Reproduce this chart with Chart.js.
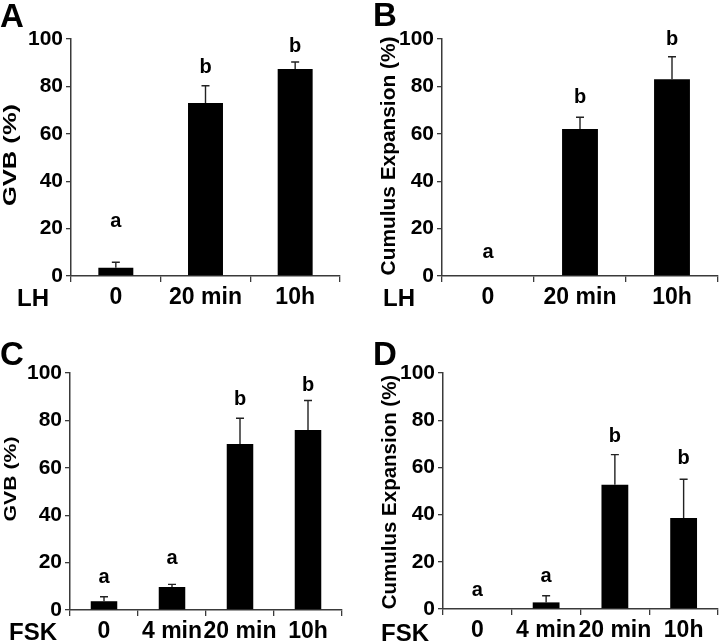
<!DOCTYPE html>
<html>
<head>
<meta charset="utf-8">
<script src="https://cdn.jsdelivr.net/npm/chart.js@4.4.1/dist/chart.umd.min.js"></script>
<style>
  body { margin: 0; background: #fff; }
  #wrap { position: relative; width: 720px; height: 642px; overflow: hidden; font-family: "Liberation Sans", Arial, sans-serif; font-weight: bold; color: #000; }
  .box { position: absolute; width: 360px; height: 321px; }
  .lbl { position: absolute; white-space: nowrap; }
  .panel { font-size: 33px; line-height: 33px; }
  .treat { font-size: 24px; line-height: 24px; }
</style>
</head>
<body>
<div id="wrap">
  <div class="box" style="left:0;top:0"><canvas id="chartA" width="360" height="321"></canvas></div>
  <div class="box" style="left:360px;top:0"><canvas id="chartB" width="360" height="321"></canvas></div>
  <div class="box" style="left:0;top:321px"><canvas id="chartC" width="360" height="321"></canvas></div>
  <div class="box" style="left:360px;top:321px"><canvas id="chartD" width="360" height="321"></canvas></div>

  <div class="lbl panel" style="left:0;top:-1px">A</div>
  <div class="lbl panel" style="left:373px;top:-2px">B</div>
  <div class="lbl panel" style="left:0;top:337px">C</div>
  <div class="lbl panel" style="left:373px;top:337px">D</div>

  <div class="lbl treat" style="left:17px;top:286px">LH</div>
  <div class="lbl treat" style="left:383px;top:286px">LH</div>
  <div class="lbl treat" style="left:9px;top:620px">FSK</div>
  <div class="lbl treat" style="left:381px;top:621px">FSK</div>
</div>
<script>
// categories
const lhLabels = ['0', '20 min', '10h'];
const fskLabels = ['0', '4 min', '20 min', '10h'];

// means and SEM (upper error only)
const gvbLH = [3.5, 73, 87.3];
const gvbLHErr = [2.3, 7.3, 3];
const cumLH = [0, 62, 83];
const cumLHErr = [0, 5, 9.5];
const gvbFSK = [3.7, 9.7, 70, 76];
const gvbFSKErr = [1.9, 1.1, 10.9, 12.4];
const cumFSK = [0, 2.8, 52.7, 38.6];
const cumFSKErr = [0, 2.8, 12.7, 16.4];

// significance letters and where they sit (value units, baseline)
const lettersLH = ['a', 'b', 'b'];
const letterPosGvbLH = [20.7, 85.6, 94.5];
const letterPosCumLH = [7.6, 73, 97.5];
const lettersFSK = ['a', 'a', 'b', 'b'];
const letterPosGvbFSK = [11.4, 19.2, 86.7, 92.3];
const letterPosCumFSK = [5.6, 11.3, 70.6, 61.4];

const yTicks = [0, 20, 40, 60, 80, 100];

const FONT = '"Liberation Sans", Arial, sans-serif';
const AXIS = '#3a3a3a';

// error bars, letters and the (stretched) y title
const errBars = {
  id: 'errbars',
  afterDatasetsDraw(chart, args, opts) {
    const ctx = chart.ctx;
    const y = chart.scales.y;
    const meta = chart.getDatasetMeta(0);
    const vals = chart.data.datasets[0].data;
    ctx.save();
    meta.data.forEach((bar, i) => {
      const x = bar.x;
      if (opts.err[i] > 0) {
        const y0 = y.getPixelForValue(vals[i]);
        const y1 = y.getPixelForValue(vals[i] + opts.err[i]);
        ctx.strokeStyle = '#222';
        ctx.lineWidth = 1.4;
        ctx.beginPath();
        ctx.moveTo(x, y0);
        ctx.lineTo(x, y1);
        ctx.moveTo(x - 4, y1);
        ctx.lineTo(x + 4, y1);
        ctx.stroke();
      }
      ctx.fillStyle = '#000';
      ctx.font = 'bold 20px ' + FONT;
      ctx.textAlign = 'center';
      ctx.textBaseline = 'alphabetic';
      ctx.fillText(opts.letters[i], x, y.getPixelForValue(opts.letterPos[i]));
    });

    const t = opts.title;
    ctx.translate(t.x, t.y);
    ctx.rotate(-Math.PI / 2);
    ctx.scale(t.stretch, 1);
    ctx.font = 'bold ' + t.size + 'px ' + FONT;
    ctx.textBaseline = 'middle';
    ctx.fillText(t.text, 0, 0);
    ctx.restore();
  }
};

function makePanel(id, labels, values, err, letters, letterPos, title, p) {
  return new Chart(document.getElementById(id), {
    type: 'bar',
    data: {
      labels: labels,
      datasets: [{
        data: values,
        backgroundColor: '#000',
        borderWidth: 0,
        categoryPercentage: 1,
        barPercentage: 0.39
      }]
    },
    options: {
      responsive: false,
      animation: false,
      devicePixelRatio: 1,
      layout: { padding: { left: 0, top: p.top, right: p.right, bottom: 0 } },
      plugins: {
        legend: { display: false },
        tooltip: { enabled: false },
        errbars: {
          err: err, letters: letters, letterPos: letterPos,
          title: { text: title, x: p.tx, y: p.ty, size: p.tsize, stretch: p.tstretch }
        }
      },
      scales: {
        x: {
          grid: { display: true, drawOnChartArea: false, drawTicks: true, tickLength: 6, color: AXIS, lineWidth: 1.3, offset: true },
          border: { display: true, color: AXIS, width: 1.5 },
          ticks: {
            autoSkip: false, maxRotation: 0, minRotation: 0, padding: 2,
            color: '#000', font: { family: FONT, size: 23, weight: 'bold' }
          },
          afterFit(scale) { scale.height = p.xh; }
        },
        y: {
          min: 0, max: 100,
          afterBuildTicks(scale) { scale.ticks = yTicks.map(v => ({ value: v })); },
          grid: { display: true, drawOnChartArea: false, drawTicks: true, tickLength: 5, color: AXIS, lineWidth: 1.3 },
          border: { display: true, color: AXIS, width: 1.5 },
          ticks: { padding: 3, color: '#000', font: { family: FONT, size: 21, weight: 'bold' } },
          afterFit(scale) { scale.width = p.left; }
        }
      }
    },
    plugins: [errBars]
  });
}

makePanel('chartA', lhLabels, gvbLH, gvbLHErr, lettersLH, letterPosGvbLH, 'GVB (%)',
  { top: 39, right: 20, xh: 45, left: 71, tx: 11, ty: 155, tsize: 18, tstretch: 1.42 });
makePanel('chartB', lhLabels, cumLH, cumLHErr, lettersLH, letterPosCumLH, 'Cumulus Expansion (%)',
  { top: 39, right: 2, xh: 45, left: 82, tx: 30, ty: 156, tsize: 19.5, tstretch: 1.07 });
makePanel('chartC', fskLabels, gvbFSK, gvbFSKErr, lettersFSK, letterPosGvbFSK, 'GVB (%)',
  { top: 52, right: 18, xh: 32, left: 70, tx: 11, ty: 158, tsize: 17, tstretch: 1.25 });
makePanel('chartD', fskLabels, cumFSK, cumFSKErr, lettersFSK, letterPosCumFSK, 'Cumulus Expansion (%)',
  { top: 52, right: 2, xh: 33, left: 83, tx: 31, ty: 171, tsize: 19.5, tstretch: 1.05 });
</script>
</body>
</html>
